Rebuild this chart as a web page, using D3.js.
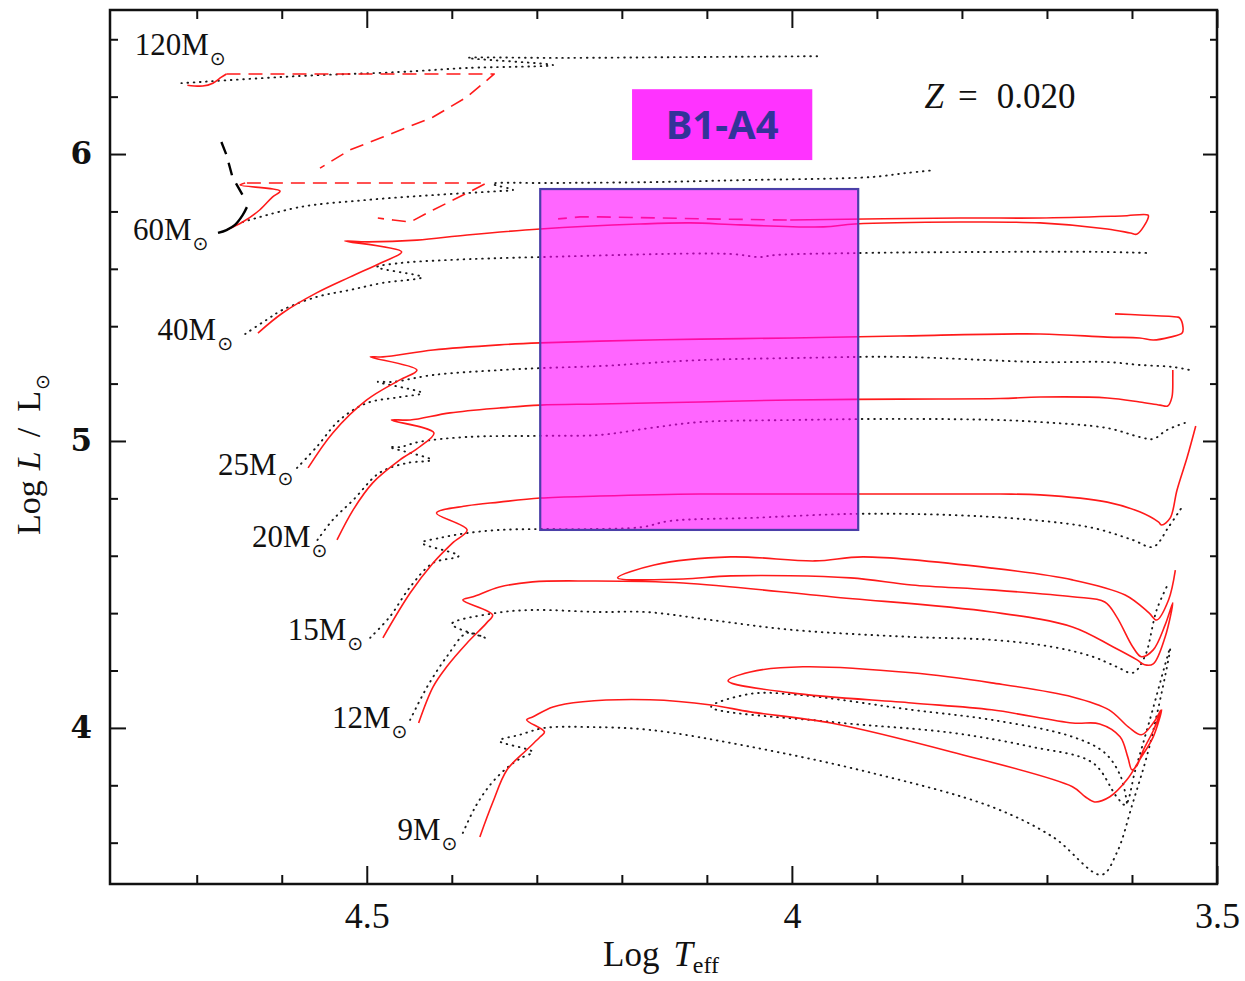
<!DOCTYPE html>
<html>
<head>
<meta charset="utf-8">
<script src="https://cdn.jsdelivr.net/npm/d3@7"></script>
<style>
  body { margin: 0; background: #fff; }
  svg { display: block; }
</style>
</head>
<body>
<svg id="chart"></svg>
<script>
// tracks as [log Teff, log L/Lsun]
const red9 = [[4.367,3.620],[4.352,3.739],[4.335,3.854],[4.312,3.923],[4.296,3.969],[4.291,3.986],
  [4.312,4.028],[4.305,4.038],[4.281,4.073],[4.246,4.091],[4.167,4.098],[4.095,4.080],[4.049,4.056],
  [3.954,4.017],[3.812,3.916],[3.670,3.795],[3.655,3.760],[3.644,3.742],[3.626,3.760],[3.606,3.819],
  [3.591,3.889],[3.575,3.969],[3.565,4.063],[3.575,3.990],[3.587,3.920],[3.594,3.870],[3.600,3.854],
  [3.605,3.899],[3.614,3.969],[3.638,4.014],[3.670,4.017],[3.765,4.063],[3.859,4.087],[4.001,4.122],
  [4.075,4.164],[4.049,4.195],[3.987,4.213],[3.859,4.192],[3.765,4.157],[3.670,4.108],[3.627,4.063],
  [3.604,4.003],[3.589,3.976],[3.575,4.017],[3.566,4.063]];
const dot9 = [[4.387,3.634],[4.373,3.721],[4.355,3.801],[4.335,3.861],[4.318,3.896],[4.305,3.916],
  [4.344,3.955],[4.320,3.976],[4.291,4.000],[4.238,4.003],[4.167,3.993],[4.048,3.934],[3.906,3.843],
  [3.765,3.725],[3.693,3.620],[3.636,3.488],[3.618,3.564],[3.599,3.739],[3.579,3.941],[3.555,4.279],
  [3.579,4.028],[3.596,3.854],[3.608,3.732],[3.618,3.760],[3.646,3.878],[3.718,3.934],[3.812,3.983],
  [3.954,4.021],[4.095,4.073],[4.048,4.119],[3.992,4.115],[3.859,4.063],[3.765,4.028],[3.670,3.969],
  [3.632,3.913],[3.613,3.829],[3.606,3.739]];

const red12 = [[4.439,4.017],[4.422,4.143],[4.406,4.213],[4.382,4.296],[4.359,4.366],[4.352,4.394],
  [4.387,4.446],[4.375,4.457],[4.344,4.491],[4.305,4.509],[4.238,4.512],[4.128,4.505],[3.954,4.457],
  [3.765,4.404],[3.670,4.352],[3.622,4.282],[3.594,4.237],[3.585,4.220],[3.575,4.223],[3.561,4.317],
  [3.552,4.436],[3.561,4.359],[3.575,4.272],[3.589,4.248],[3.599,4.282],[3.618,4.387],[3.632,4.439],
  [3.670,4.457],[3.765,4.481],[3.859,4.498],[3.931,4.523],[4.072,4.530],[4.128,4.519],[4.205,4.523],
  [4.162,4.568],[4.072,4.596],[3.973,4.582],[3.916,4.596],[3.765,4.557],[3.670,4.516],[3.608,4.463],
  [3.580,4.401],[3.571,4.376],[3.557,4.446],[3.549,4.550]];
const dot12 = [[4.449,4.028],[4.429,4.143],[4.406,4.248],[4.382,4.331],[4.361,4.314],[4.400,4.362],
  [4.347,4.401],[4.305,4.411],[4.226,4.404],[4.172,4.404],[4.095,4.376],[4.001,4.342],[3.859,4.317],
  [3.765,4.307],[3.693,4.282],[3.646,4.248],[3.618,4.213],[3.599,4.192],[3.585,4.248],[3.571,4.411],
  [3.557,4.505]];

const red15 = [[4.481,4.314],[4.449,4.470],[4.422,4.575],[4.399,4.645],[4.382,4.690],[4.418,4.749],
  [4.382,4.774],[4.344,4.787],[4.296,4.801],[4.226,4.808],[4.108,4.815],[4.000,4.815],[3.873,4.815],
  [3.755,4.815],[3.708,4.812],[3.629,4.787],[3.591,4.753],[3.569,4.718],[3.565,4.707],[3.555,4.732],
  [3.547,4.829],[3.535,4.944],[3.525,5.052]];
const dot15 = [[4.496,4.314],[4.473,4.387],[4.449,4.491],[4.422,4.575],[4.392,4.599],[4.435,4.645],
  [4.414,4.662],[4.382,4.679],[4.344,4.690],[4.296,4.693],[4.238,4.693],[4.176,4.700],[4.144,4.721],
  [4.048,4.732],[3.926,4.746],[3.812,4.742],[3.718,4.725],[3.646,4.697],[3.599,4.655],[3.575,4.631],
  [3.557,4.700],[3.542,4.766]];

const red20 = [[4.535,4.655],[4.516,4.760],[4.493,4.854],[4.461,4.934],[4.438,4.979],[4.421,5.028],
  [4.471,5.073],[4.449,5.073],[4.402,5.098],[4.344,5.115],[4.296,5.125],[4.226,5.129],[4.108,5.136],
  [4.000,5.143],[3.873,5.146],[3.755,5.148],[3.708,5.153],[3.629,5.150],[3.591,5.136],[3.567,5.125],
  [3.558,5.122],[3.553,5.153],[3.552,5.223],[3.552,5.247]];
const dot20 = [[4.558,4.655],[4.540,4.725],[4.516,4.794],[4.485,4.889],[4.453,4.923],[4.424,4.934],
  [4.473,4.979],[4.461,4.979],[4.438,4.997],[4.382,5.014],[4.296,5.018],[4.226,5.021],[4.167,5.045],
  [4.108,5.066],[4.000,5.073],[3.873,5.077],[3.755,5.073],[3.708,5.066],[3.629,5.045],[3.591,5.014],
  [3.575,5.007],[3.559,5.038],[3.535,5.066]];

const red25 = [[4.569,4.906],[4.540,5.028],[4.500,5.143],[4.461,5.213],[4.441,5.247],[4.496,5.293],
  [4.481,5.293],[4.422,5.317],[4.344,5.335],[4.296,5.342],[4.226,5.348],[4.108,5.355],[4.000,5.359],
  [3.873,5.366],[3.708,5.373],[3.629,5.362],[3.591,5.359],[3.575,5.352],[3.555,5.362],[3.541,5.376],
  [3.540,5.397],[3.544,5.429],[3.547,5.432],[3.591,5.439],[3.620,5.443]];
const dot25 = [[4.582,4.906],[4.559,4.979],[4.532,5.073],[4.500,5.132],[4.461,5.153],[4.435,5.167],
  [4.487,5.206],[4.469,5.206],[4.422,5.230],[4.344,5.247],[4.296,5.254],[4.226,5.261],[4.167,5.272],
  [4.108,5.282],[4.000,5.289],[3.873,5.293],[3.708,5.275],[3.629,5.275],[3.591,5.265],[3.552,5.258],
  [3.532,5.247]];

const red40 = [[4.628,5.376],[4.599,5.446],[4.559,5.516],[4.520,5.571],[4.481,5.624],[4.459,5.659],
  [4.526,5.697],[4.500,5.694],[4.441,5.700],[4.382,5.718],[4.296,5.739],[4.179,5.756],[4.120,5.760],
  [4.061,5.753],[3.963,5.746],[3.926,5.756],[3.802,5.763],[3.708,5.760],[3.629,5.739],[3.602,5.725],
  [3.594,5.721],[3.581,5.777],[3.581,5.787],[3.612,5.784],[3.708,5.777],[3.802,5.777],[4.002,5.770]];
const red40Dash = [[4.006,5.770],[4.100,5.774],[4.226,5.781],[4.249,5.781],[4.275,5.774]];
const dot40 = [[4.643,5.373],[4.618,5.422],[4.599,5.457],[4.559,5.502],[4.520,5.526],[4.481,5.551],
  [4.435,5.571],[4.488,5.606],[4.461,5.620],[4.402,5.631],[4.296,5.641],[4.073,5.652],[4.038,5.641],
  [4.020,5.648],[3.922,5.655],[3.755,5.659],[3.638,5.659],[3.579,5.655]];

const red60 = [[4.665,5.735],[4.646,5.763],[4.626,5.805],[4.611,5.850],[4.602,5.871],[4.649,5.892],[4.643,5.899]];
const red60Dash = [[4.641,5.899],[4.359,5.899],[4.382,5.864],[4.422,5.805],[4.449,5.763],[4.469,5.770],[4.487,5.777]];
const black60Dash = [[4.671,6.042],[4.665,5.997],[4.658,5.920],[4.646,5.857]];
const black60 = [[4.641,5.815],[4.646,5.787],[4.655,5.753],[4.665,5.735],[4.675,5.725]];
const dot60 = [[4.646,5.763],[4.579,5.815],[4.500,5.840],[4.422,5.857],[4.344,5.871],[4.328,5.875],
  [4.352,5.896],[4.285,5.899],[4.167,5.902],[4.061,5.909],[3.906,5.920],[3.865,5.934],[3.832,5.944]];

const red120 = [[4.711,6.240],[4.693,6.237],[4.681,6.247],[4.671,6.268],[4.665,6.279]];
const red120Dash = [[4.665,6.279],[4.350,6.279],[4.382,6.199],[4.422,6.129],[4.481,6.059],[4.520,6.014],[4.555,5.951]];
const dot120 = [[4.718,6.247],[4.579,6.272],[4.461,6.286],[4.382,6.300],[4.281,6.310],[4.381,6.335],
  [4.270,6.335],[4.120,6.338],[3.969,6.341]];

const massNames = ["120", "60", "40", "25", "20", "15", "12", "9"];
const massLabelPos = [[4.773,6.345],[4.775,5.700],[4.746,5.352],[4.675,4.882],[4.635,4.631],[4.593,4.307],[4.541,4.000],[4.464,3.610]];

const boxTeff = [4.296, 3.922];
const boxLum = [4.690, 5.878];
const tagTeff = [4.188, 3.976];
const tagLum = [5.979, 6.226];
const zPos = [3.844, 6.160];

const xMajor = [4.5, 4, 3.5];
const xMinor = [4.7, 4.6, 4.4, 4.3, 4.2, 4.1, 3.9, 3.8, 3.7, 3.6];
const yMajor = [4, 5, 6];
const yMinor = [3.6, 3.8, 4.2, 4.4, 4.6, 4.8, 5.2, 5.4, 5.6, 5.8, 6.2, 6.4];

const W = 1245, H = 981;
const margin = { top: 10, right: 28, bottom: 97, left: 110 };

const x = d3.scaleLinear().domain([4.802, 3.5]).range([margin.left, W - margin.right]);
const y = d3.scaleLinear().domain([3.456, 6.502]).range([H - margin.bottom, margin.top]);

const svg = d3.select("#chart").attr("width", W).attr("height", H);

svg.append("clipPath").attr("id", "plot")
  .append("rect")
  .attr("x", margin.left).attr("y", margin.top)
  .attr("width", W - margin.left - margin.right)
  .attr("height", H - margin.top - margin.bottom);

const smooth = d3.line()
  .x(d => x(d[0]))
  .y(d => y(d[1]))
  .curve(d3.curveCatmullRom.alpha(0.5));
const straight = d3.line()
  .x(d => x(d[0]))
  .y(d => y(d[1]));

const styles = {
  red: { stroke: "#ff1a1a", width: 1.6, dash: null, line: smooth },
  redDash: { stroke: "#ff1a1a", width: 1.6, dash: "14 8", line: straight },
  dot: { stroke: "#1a1a1a", width: 1.9, dash: "0.6 5.6", line: smooth },
  black: { stroke: "#000", width: 2.4, dash: null, line: smooth },
  blackDash: { stroke: "#000", width: 2.4, dash: "13 9", line: straight }
};

const tracks = [
  [dot9, "dot"], [dot12, "dot"], [dot15, "dot"], [dot20, "dot"], [dot25, "dot"],
  [dot40, "dot"], [dot60, "dot"], [dot120, "dot"],
  [red9, "red"], [red12, "red"], [red15, "red"], [red20, "red"], [red25, "red"],
  [red40, "red"], [red40Dash, "redDash"], [red60, "red"], [red60Dash, "redDash"],
  [red120, "red"], [red120Dash, "redDash"],
  [black60Dash, "blackDash"], [black60, "black"]
];

const g = svg.append("g").attr("clip-path", "url(#plot)");

g.selectAll("path.track")
  .data(tracks)
  .enter()
  .append("path")
  .attr("class", "track")
  .attr("d", d => styles[d[1]].line(d[0]))
  .attr("fill", "none")
  .attr("stroke", d => styles[d[1]].stroke)
  .attr("stroke-width", d => styles[d[1]].width)
  .attr("stroke-dasharray", d => styles[d[1]].dash)
  .attr("stroke-linecap", d => d[1] === "dot" ? "round" : "butt")
  .attr("stroke-linejoin", "round");

// B1-A4 region, translucent over the tracks
svg.append("rect")
  .attr("x", x(boxTeff[0]))
  .attr("y", y(boxLum[1]))
  .attr("width", x(boxTeff[1]) - x(boxTeff[0]))
  .attr("height", y(boxLum[0]) - y(boxLum[1]))
  .attr("fill", "#ff00ff")
  .attr("fill-opacity", 0.6)
  .attr("stroke", "#4a3fa8")
  .attr("stroke-width", 2.2);

svg.append("rect")
  .attr("x", x(tagTeff[0]))
  .attr("y", y(tagLum[1]))
  .attr("width", x(tagTeff[1]) - x(tagTeff[0]))
  .attr("height", y(tagLum[0]) - y(tagLum[1]))
  .attr("fill", "#ff33ff");

svg.append("text")
  .attr("x", (x(tagTeff[0]) + x(tagTeff[1])) / 2)
  .attr("y", (y(tagLum[0]) + y(tagLum[1])) / 2 + 14)
  .attr("text-anchor", "middle")
  .attr("font-family", "'Comic Sans MS', 'Noto Sans', sans-serif")
  .attr("font-weight", "bold")
  .attr("font-size", "40px")
  .attr("fill", "#333399")
  .text("B1-A4");

// mass labels
const labels = svg.selectAll("text.mass")
  .data(massNames)
  .enter()
  .append("text")
  .attr("class", "mass")
  .attr("x", (d, i) => x(massLabelPos[i][0]))
  .attr("y", (d, i) => y(massLabelPos[i][1]))
  .attr("font-family", "'Liberation Serif', serif")
  .attr("font-size", "31px")
  .attr("fill", "#111");
labels.append("tspan").text(d => d + "M");
labels.append("tspan")
  .attr("font-family", "'DejaVu Sans', sans-serif")
  .attr("font-size", "19px")
  .attr("dx", 1)
  .attr("dy", 10)
  .text("\u2299");

// Z = 0.020
const zt = svg.append("text")
  .attr("x", x(zPos[0]))
  .attr("y", y(zPos[1]))
  .attr("font-family", "'Liberation Serif', serif")
  .attr("font-size", "35px")
  .attr("fill", "#111");
zt.append("tspan").attr("font-style", "italic").text("Z");
zt.append("tspan").attr("dx", 14).text("=");
zt.append("tspan").attr("dx", 19).text("0.020");

// axes
const plotBottom = H - margin.bottom, plotRight = W - margin.right;

function styleAxis(sel) {
  sel.select(".domain").remove();
  sel.selectAll(".tick line").attr("stroke", "#111").attr("stroke-width", 2);
}

svg.append("g")
  .attr("transform", `translate(0,${plotBottom})`)
  .call(d3.axisBottom(x).tickValues(xMinor).tickSize(-9).tickFormat(""))
  .call(styleAxis);
svg.append("g")
  .attr("transform", `translate(0,${plotBottom})`)
  .call(d3.axisBottom(x).tickValues(xMajor).tickSize(-18).tickPadding(18).tickFormat(d => String(d)))
  .call(styleAxis)
  .call(a => a.selectAll("text")
    .attr("font-family", "'Liberation Serif', serif")
    .attr("font-size", "36px")
    .attr("fill", "#111"));

svg.append("g")
  .attr("transform", `translate(0,${margin.top})`)
  .call(d3.axisTop(x).tickValues(xMinor).tickSize(-9).tickFormat(""))
  .call(styleAxis);
svg.append("g")
  .attr("transform", `translate(0,${margin.top})`)
  .call(d3.axisTop(x).tickValues(xMajor).tickSize(-18).tickFormat(""))
  .call(styleAxis);

svg.append("g")
  .attr("transform", `translate(${margin.left},0)`)
  .call(d3.axisLeft(y).tickValues(yMinor).tickSize(-8).tickFormat(""))
  .call(styleAxis);
svg.append("g")
  .attr("transform", `translate(${margin.left},0)`)
  .call(d3.axisLeft(y).tickValues(yMajor).tickSize(-16).tickPadding(18).tickFormat(d => String(d)))
  .call(styleAxis)
  .call(a => a.selectAll("text")
    .attr("font-family", "'DejaVu Serif', serif")
    .attr("font-weight", "bold")
    .attr("font-size", "31px")
    .attr("fill", "#111"));

svg.append("g")
  .attr("transform", `translate(${plotRight},0)`)
  .call(d3.axisRight(y).tickValues(yMinor).tickSize(-7).tickFormat(""))
  .call(styleAxis);
svg.append("g")
  .attr("transform", `translate(${plotRight},0)`)
  .call(d3.axisRight(y).tickValues(yMajor).tickSize(-14).tickFormat(""))
  .call(styleAxis);

svg.append("rect")
  .attr("x", margin.left).attr("y", margin.top)
  .attr("width", plotRight - margin.left)
  .attr("height", plotBottom - margin.top)
  .attr("fill", "none")
  .attr("stroke", "#111")
  .attr("stroke-width", 2.5);

// axis titles
const xt = svg.append("text")
  .attr("x", 603)
  .attr("y", 966)
  .attr("font-family", "'Liberation Serif', serif")
  .attr("font-size", "35px")
  .attr("fill", "#111");
xt.append("tspan").text("Log");
xt.append("tspan").attr("dx", 14).attr("font-style", "italic").text("T");
xt.append("tspan").attr("font-size", "24px").attr("dy", 7).text("eff");

const yt = svg.append("text")
  .attr("transform", `translate(40,535) rotate(-90)`)
  .attr("font-family", "'Liberation Serif', serif")
  .attr("font-size", "34px")
  .attr("fill", "#111");
yt.append("tspan").text("Log");
yt.append("tspan").attr("dx", 10).attr("font-style", "italic").text("L");
yt.append("tspan").attr("dx", 14).text("/");
yt.append("tspan").attr("dx", 16).text("L");
yt.append("tspan")
  .attr("font-family", "'DejaVu Sans', sans-serif")
  .attr("font-size", "19px")
  .attr("dx", 1)
  .attr("dy", 9)
  .text("\u2299");
</script>
</body>
</html>
